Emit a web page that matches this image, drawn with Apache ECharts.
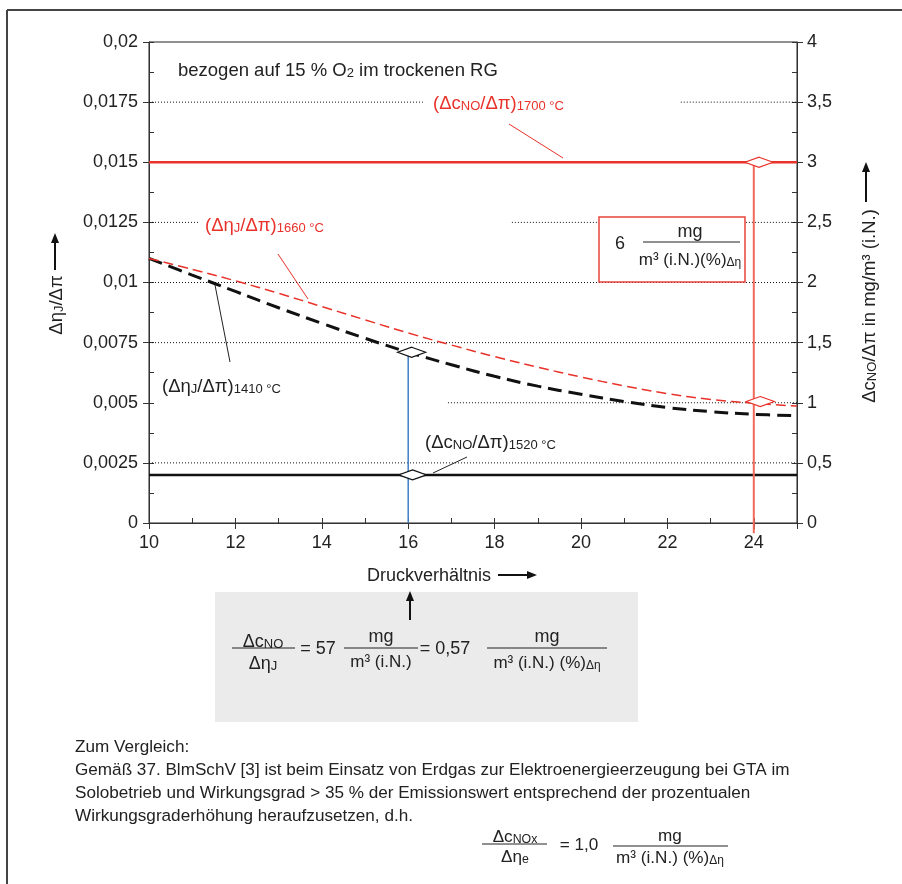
<!DOCTYPE html>
<html><head><meta charset="utf-8">
<script src="https://cdn.jsdelivr.net/npm/echarts@6/dist/echarts.min.js"></script>
<style>html,body{margin:0;padding:0;background:#fff}#c{width:902px;height:884px}</style>
</head><body><div id="c"></div>
<script>
// ---------------- data ----------------
const pressureRatio = [10, 11, 12, 13, 14, 15, 16, 17, 18, 19, 20, 21, 22, 23, 24, 25];
const etaJ1410 = [0.0110, 0.01031, 0.00963, 0.00895, 0.00830, 0.00768, 0.0071, 0.00658, 0.0061, 0.00569, 0.00535, 0.00505, 0.00480, 0.00463, 0.00452, 0.00446];
const etaJ1660 = [0.0110, 0.01055, 0.01007, 0.00955, 0.0090, 0.00845, 0.0079, 0.0074, 0.00692, 0.00648, 0.00607, 0.00570, 0.00538, 0.00514, 0.00498, 0.00486];
const cNOx = [10, 25];
const cNO1700 = [3, 3];
const cNO1520 = [0.4, 0.4];
// read-off markers
const blueMarkX = [16, 16];
const blueMarkY = [0.0071, 0];
const redMarkX = [24, 24];
const redMarkY = [3, -0.085];
const blackDiamondEta = [[16.08, 0.0071]];
const blackDiamondCNO = [[16.1, 0.4]];
const redDiamondEta = [[24.15, 0.00505]];
const redDiamondCNO = [[24.12, 3]];
// tick labels
const xTickLabels = ['10', '12', '14', '16', '18', '20', '22', '24'];
const leftTickLabels = ['0', '0,0025', '0,005', '0,0075', '0,01', '0,0125', '0,015', '0,0175', '0,02'];
const rightTickLabels = ['0', '0,5', '1', '1,5', '2', '2,5', '3', '3,5', '4'];
const paragraph = [
  'Zum Vergleich:',
  'Gemäß 37. BlmSchV [3] ist beim Einsatz von Erdgas zur Elektroenergieerzeugung bei GTA im',
  'Solobetrieb und Wirkungsgrad > 35 % der Emissionswert entsprechend der prozentualen',
  'Wirkungsgraderhöhung heraufzusetzen, d.h.'
];

// ---------------- layout / style ----------------
const FF = "'Liberation Sans', Arial, Helvetica, sans-serif";
const NF = "'Liberation Sans Narrow', 'Liberation Sans', Arial, sans-serif";
const RED = '#e8322a';
const gridSegments = [
  { y: 0.0175, x: [[10, 16.34], [22.31, 25]] },
  { y: 0.0125, x: [[10, 11.18], [18.4, 25]] },
  { y: 0.01, x: [[10, 25]] },
  { y: 0.0075, x: [[10, 25]] },
  { y: 0.005, x: [[16.92, 25]] },
  { y: 0.0025, x: [[10, 25]] }
];

const ctx = document.createElement('canvas').getContext('2d');
ctx.font = "16px " + NF;
const paraSize = 16 * 715 / ctx.measureText(paragraph[1]).width;

function richFor(color, size, subSize, family) {
  size = size || 18.5; subSize = subSize || 13; family = family || FF;
  return {
    n: { fontSize: size, fontFamily: family, fill: color, lineHeight: Math.round(size * 1.2), verticalAlign: 'bottom' },
    s: { fontSize: subSize, fontFamily: family, fill: color, lineHeight: Math.round(subSize * 1.18), verticalAlign: 'bottom' }
  };
}
function rtext(x, y, text, color, opt) {
  opt = opt || {};
  return {
    type: 'text', x: x, y: y, z: 20, rotation: opt.rotation || 0,
    style: {
      text: text, rich: richFor(color, opt.size, opt.sub, opt.family),
      align: opt.align || 'left', verticalAlign: 'middle', fill: color
    }
  };
}
function ptext(x, y, text, opt) {
  opt = opt || {};
  return {
    type: 'text', x: x, y: y, z: 20,
    style: { text: text, fontSize: opt.size || 18, fontFamily: opt.family || FF, fill: opt.color || '#222',
      align: opt.align || 'left', verticalAlign: 'middle' }
  };
}
function hline(x1, x2, y, color, w) {
  return { type: 'line', z: 20, shape: { x1: x1, y1: y, x2: x2, y2: y }, style: { stroke: color || '#222', lineWidth: w || 1 } };
}
function seg(x1, y1, x2, y2, color, w) {
  return { type: 'line', z: 20, shape: { x1: x1, y1: y1, x2: x2, y2: y2 }, style: { stroke: color, lineWidth: w || 1 } };
}
function arrow(x1, y1, x2, y2) { // line with filled head at (x2,y2)
  const dx = x2 - x1, dy = y2 - y1, L = Math.hypot(dx, dy), ux = dx / L, uy = dy / L;
  const hl = 10, hw = 4;
  const bx = x2 - ux * hl, by = y2 - uy * hl;
  return [
    { type: 'line', z: 20, shape: { x1: x1, y1: y1, x2: bx, y2: by }, style: { stroke: '#111', lineWidth: 2 } },
    { type: 'polygon', z: 20, shape: { points: [[x2, y2], [bx - uy * hw, by + ux * hw], [bx + uy * hw, by - ux * hw]] }, style: { fill: '#111' } }
  ];
}

const graphics = [].concat(
  [
    seg(7, 10, 902, 10, '#444', 2),
    seg(7, 10, 7, 884, '#444', 2),
    // annotations
    rtext(178, 69, '{n|bezogen auf 15 % O}{s|2}{n| im trockenen RG}', '#222'),
    rtext(433, 102, '{n|(Δc}{s|NO}{n|/Δπ)}{s|1700 °C}', RED),
    rtext(205, 224, '{n|(Δη}{s|J}{n|/Δπ)}{s|1660 °C}', RED),
    rtext(162, 385, '{n|(Δη}{s|J}{n|/Δπ)}{s|1410 °C}', '#222'),
    rtext(425, 441, '{n|(Δc}{s|NO}{n|/Δπ)}{s|1520 °C}', '#222'),
    seg(509, 124, 563, 158, RED, 1),
    seg(278, 254, 308, 299, RED, 1),
    seg(215, 285, 230, 362, '#222', 1),
    seg(433, 473, 467, 457, '#222', 1),
    // red box
    { type: 'rect', z: 15, shape: { x: 599, y: 217, width: 146, height: 65 }, style: { fill: '#fff', stroke: '#e8453a', lineWidth: 1.5 } },
    ptext(620, 244, '6', { align: 'center', size: 18 }),
    hline(643, 740, 242, '#222', 1),
    ptext(690, 232, 'mg', { align: 'center', size: 18 }),
    rtext(690, 259, '{n|m³ (i.N.)(%)}{s|Δη}', '#222', { align: 'center', size: 17, sub: 12 }),
    // axis titles
    rtext(55, 305, '{n|Δη}{s|J}{n|/Δπ}', '#222', { align: 'center', rotation: Math.PI / 2 }),
    rtext(868, 306, '{n|Δc}{s|NO}{n|/Δπ in mg/m³ (i.N.)}', '#222', { align: 'center', rotation: Math.PI / 2 }),
    ptext(367, 576, 'Druckverhältnis', { size: 18 }),
    // grey box
    { type: 'rect', z: 0, shape: { x: 215, y: 592, width: 423, height: 130 }, style: { fill: '#ebebeb' } },
    rtext(263, 640, '{n|Δc}{s|NO}', '#222', { align: 'center', size: 18 }),
    rtext(263, 662, '{n|Δη}{s|J}', '#222', { align: 'center', size: 18 }),
    hline(232, 295, 648, '#222', 1),
    ptext(318, 649, '= 57', { align: 'center', size: 18 }),
    ptext(381, 637, 'mg', { align: 'center', size: 18 }),
    ptext(381, 662, 'm³ (i.N.)', { align: 'center', size: 17 }),
    hline(344, 418, 648, '#222', 1),
    ptext(445, 649, '= 0,57', { align: 'center', size: 18 }),
    ptext(547, 637, 'mg', { align: 'center', size: 18 }),
    rtext(547, 662, '{n|m³ (i.N.) (%)}{s|Δη}', '#222', { align: 'center', size: 17, sub: 12 }),
    hline(487, 607, 648, '#222', 1),
    // bottom paragraph
    ptext(75, 747, paragraph[0], { size: paraSize, family: NF }),
    ptext(75, 770, paragraph[1], { size: paraSize, family: NF }),
    ptext(75, 793, paragraph[2], { size: paraSize, family: NF }),
    ptext(75, 816, paragraph[3], { size: paraSize, family: NF }),
    rtext(515, 835, '{n|Δc}{s|NOx}', '#222', { align: 'center', size: paraSize, sub: paraSize * 0.72, family: NF }),
    rtext(515, 855, '{n|Δη}{s|e}', '#222', { align: 'center', size: paraSize, sub: paraSize * 0.72, family: NF }),
    hline(482, 547, 844, '#222', 1),
    ptext(579, 845, '= 1,0', { align: 'center', size: paraSize, family: NF }),
    ptext(670, 836, 'mg', { align: 'center', size: paraSize, family: NF }),
    rtext(670, 856, '{n|m³ (i.N.) (%)}{s|Δη}', '#222', { align: 'center', size: paraSize, sub: paraSize * 0.7, family: NF }),
    hline(613, 728, 846, '#222', 1)
  ],
  arrow(55, 270, 55, 233),
  arrow(866, 202, 866, 162),
  arrow(498, 575, 537, 575),
  arrow(410, 620, 410, 591)
);

// ---------------- series ----------------
const series = [];
gridSegments.forEach(function (g) {
  g.x.forEach(function (r) {
    series.push({ type: 'line', xAxisIndex: 0, yAxisIndex: 0, silent: true, z: 1, symbol: 'none',
      data: [[r[0], g.y], [r[1], g.y]], lineStyle: { color: '#111', width: 1, type: [1, 2] } });
  });
});
series.push(
  { name: '(ΔcNO/Δπ)1700 °C', type: 'line', yAxisIndex: 2, symbol: 'none', z: 3,
    data: cNOx.map(function (x, i) { return [x, cNO1700[i]]; }), lineStyle: { color: RED, width: 2.5 } },
  { name: '(ΔcNO/Δπ)1520 °C', type: 'line', yAxisIndex: 2, symbol: 'none', z: 3,
    data: cNOx.map(function (x, i) { return [x, cNO1520[i]]; }), lineStyle: { color: '#111', width: 2.5 } },
  { name: '(ΔηJ/Δπ)1410 °C', type: 'line', yAxisIndex: 0, symbol: 'none', z: 3, smooth: 0.4,
    data: pressureRatio.map(function (x, i) { return [x, etaJ1410[i]]; }), lineStyle: { color: '#111', width: 3, type: [14, 7] } },
  { name: '(ΔηJ/Δπ)1660 °C', type: 'line', yAxisIndex: 0, symbol: 'none', z: 3, smooth: 0.4,
    data: pressureRatio.map(function (x, i) { return [x, etaJ1660[i]]; }), lineStyle: { color: RED, width: 1.5, type: [10, 5] } },
  { type: 'line', yAxisIndex: 0, symbol: 'none', z: 4,
    data: blueMarkX.map(function (x, i) { return [x, blueMarkY[i]]; }), lineStyle: { color: '#3f7fc4', width: 1.5 } },
  { type: 'line', yAxisIndex: 2, symbol: 'none', z: 4, clip: false,
    data: redMarkX.map(function (x, i) { return [x, redMarkY[i]]; }), lineStyle: { color: '#f06a5a', width: 2 } }
);
function diamonds(data, yIdx, color) {
  return { type: 'scatter', yAxisIndex: yIdx, z: 6, symbol: 'diamond', symbolSize: [28, 10], data: data,
    itemStyle: { color: '#fff', borderColor: color, borderWidth: 1.5, opacity: 1 } };
}
series.push(
  diamonds(blackDiamondEta, 0, '#111'),
  diamonds(blackDiamondCNO, 2, '#111'),
  diamonds(redDiamondEta, 0, RED),
  diamonds(redDiamondCNO, 2, RED)
);

const labelStyle = { fontSize: 18, color: '#222', fontFamily: FF };
const option = {
  animation: false,
  backgroundColor: '#fff',
  grid: { left: 149, top: 42, width: 648, height: 481, show: true, borderColor: '#222', borderWidth: 1, backgroundColor: 'transparent' },
  xAxis: [
    { type: 'value', min: 10, max: 25, interval: 2, position: 'bottom',
      axisLine: { show: true, lineStyle: { color: '#333' } },
      axisTick: { show: true, length: 6, lineStyle: { color: '#333' } },
      splitLine: { show: false },
      axisLabel: Object.assign({ margin: 11, formatter: function (v) { const i = (v - 10) / 2; return Number.isInteger(i) ? (xTickLabels[i] || '') : ''; } }, labelStyle) },
    { type: 'value', min: 10, max: 25, interval: 1, position: 'bottom',
      axisLine: { show: false }, axisTick: { show: true, inside: true, length: 5, lineStyle: { color: '#333' } },
      splitLine: { show: false }, axisLabel: { show: false } }
  ],
  yAxis: [
    { type: 'value', min: 0, max: 0.02, interval: 0.0025, position: 'left',
      axisLine: { show: true, lineStyle: { color: '#333' } },
      axisTick: { show: true, length: 6, lineStyle: { color: '#333' } },
      splitLine: { show: false },
      axisLabel: Object.assign({ margin: 11, formatter: function (v) { return leftTickLabels[Math.round(v / 0.0025)] || ''; } }, labelStyle) },
    { type: 'value', min: 0, max: 0.02, interval: 0.00125, position: 'left',
      axisLine: { show: false }, axisTick: { show: true, inside: true, length: 5, lineStyle: { color: '#333' } },
      splitLine: { show: false }, axisLabel: { show: false } },
    { type: 'value', min: 0, max: 4, interval: 0.5, position: 'right',
      axisLine: { show: true, lineStyle: { color: '#333' } },
      axisTick: { show: true, length: 6, lineStyle: { color: '#333' } },
      splitLine: { show: false },
      axisLabel: Object.assign({ margin: 10, formatter: function (v) { return rightTickLabels[Math.round(v / 0.5)] || ''; } }, labelStyle) },
    { type: 'value', min: 0, max: 4, interval: 0.25, position: 'right',
      axisLine: { show: false }, axisTick: { show: true, inside: true, length: 5, lineStyle: { color: '#333' } },
      splitLine: { show: false }, axisLabel: { show: false } }
  ],
  series: series,
  graphic: { elements: graphics }
};
const chart = echarts.init(document.getElementById('c'), null, { renderer: 'canvas' });
chart.setOption(option);
</script></body></html>
